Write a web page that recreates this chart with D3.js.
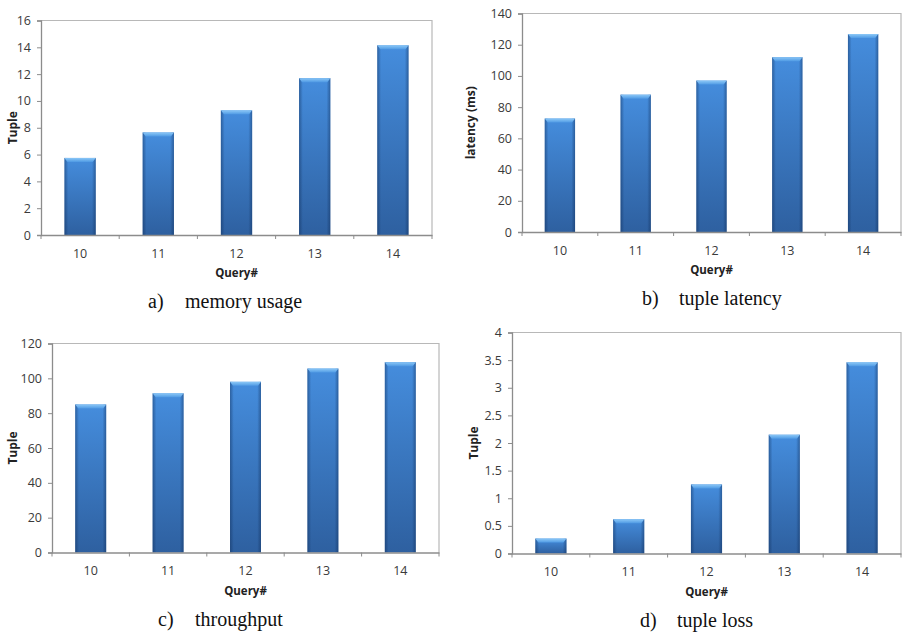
<!DOCTYPE html>
<html>
<head>
<meta charset="utf-8">
<script src="https://cdn.jsdelivr.net/npm/d3@7/dist/d3.min.js"></script>
<style>
  html, body { margin: 0; padding: 0; background: #fff; }
  svg { display: block; }
</style>
</head>
<body>
<svg id="chart" width="902" height="636"></svg>
<script>
// ---------- data ----------
const queries = ["10", "11", "12", "13", "14"];
const memoryUsage = [5.75, 7.65, 9.3, 11.7, 14.15];
const tupleLatency = [72.7, 88, 97, 112, 126.8];
const throughput = [85, 91.4, 98, 105.6, 109.3];
const tupleLoss = [0.27, 0.62, 1.25, 2.15, 3.46];
const memoryTicks = [0, 2, 4, 6, 8, 10, 12, 14, 16];
const latencyTicks = [0, 20, 40, 60, 80, 100, 120, 140];
const throughputTicks = [0, 20, 40, 60, 80, 100, 120];
const lossTicks = [0, 0.5, 1, 1.5, 2, 2.5, 3, 3.5, 4];
const xTitle = "Query#";

// ---------- layout ----------
const panels = [
  { values: memoryUsage, ticks: memoryTicks, yTitle: "Tuple", tag: "a)", caption: "memory usage",
    left: 41, top: 20.5, right: 432, bottom: 235, yTitleX: 13, capX: 148 },
  { values: tupleLatency, ticks: latencyTicks, yTitle: "latency (ms)", tag: "b)", caption: "tuple latency",
    left: 522, top: 13.5, right: 901, bottom: 232, yTitleX: 471, capX: 642 },
  { values: throughput, ticks: throughputTicks, yTitle: "Tuple", tag: "c)", caption: "throughput",
    left: 52, top: 343.5, right: 439, bottom: 552.5, yTitleX: 13, capX: 158 },
  { values: tupleLoss, ticks: lossTicks, yTitle: "Tuple", tag: "d)", caption: "tuple loss",
    left: 512, top: 332.5, right: 901, bottom: 553.5, yTitleX: 474, capX: 640 }
];

const svg = d3.select("#chart");
const defs = svg.append("defs");

// bar body gradient (vertical)
const gV = defs.append("linearGradient").attr("id", "barV").attr("x1", 0).attr("y1", 0).attr("x2", 0).attr("y2", 1);
gV.append("stop").attr("offset", "0%").attr("stop-color", "#458ddd");
gV.append("stop").attr("offset", "100%").attr("stop-color", "#2e60a0");
// edge shading (horizontal)
const gH = defs.append("linearGradient").attr("id", "barH").attr("x1", 0).attr("y1", 0).attr("x2", 1).attr("y2", 0);
gH.append("stop").attr("offset", "0%").attr("stop-color", "#0d2a55").attr("stop-opacity", 0.45);
gH.append("stop").attr("offset", "12%").attr("stop-color", "#0d2a55").attr("stop-opacity", 0.0);
gH.append("stop").attr("offset", "88%").attr("stop-color", "#0d2a55").attr("stop-opacity", 0.0);
gH.append("stop").attr("offset", "100%").attr("stop-color", "#0d2a55").attr("stop-opacity", 0.45);
// top cap
const gC = defs.append("linearGradient").attr("id", "barCap").attr("x1", 0).attr("y1", 0).attr("x2", 0).attr("y2", 1);
gC.append("stop").attr("offset", "0%").attr("stop-color", "#8cc8f7");
gC.append("stop").attr("offset", "100%").attr("stop-color", "#4f9ae4");

const tickFont = "'Open Sans', 'Liberation Sans', sans-serif";

panels.forEach(p => {
  const g = svg.append("g");
  const x = d3.scaleBand().domain(queries).range([p.left, p.right]).paddingInner(0.6).paddingOuter(0.3);
  const y = d3.scaleLinear().domain([0, d3.max(p.ticks)]).range([p.bottom, p.top]);

  // plot area border (top & right)
  g.append("path")
    .attr("d", `M${p.left},${y(d3.max(p.ticks))}H${p.right}V${p.bottom}`)
    .attr("fill", "none").attr("stroke", "#b8b8b8").attr("stroke-width", 1.2);

  // bars
  const bars = g.selectAll("g.bar").data(p.values).join("g").attr("class", "bar");
  bars.append("rect")
    .attr("x", (d, i) => x(queries[i])).attr("width", x.bandwidth())
    .attr("y", d => y(d)).attr("height", d => y(0) - y(d))
    .attr("fill", "url(#barV)");
  bars.append("rect")
    .attr("x", (d, i) => x(queries[i])).attr("width", x.bandwidth())
    .attr("y", d => y(d)).attr("height", d => y(0) - y(d))
    .attr("fill", "url(#barH)");
  bars.append("path")
    .attr("d", (d, i) => {
      const x0 = x(queries[i]), w = x.bandwidth(), t = y(d);
      return `M${x0},${t}H${x0 + w}L${x0 + w - 3},${t + 4}H${x0 + 3}Z`;
    })
    .attr("fill", "url(#barCap)");

  // y axis
  const yAxis = d3.axisLeft(y).tickValues(p.ticks).tickSize(4).tickPadding(6)
    .tickFormat(d => String(d));
  const ya = g.append("g").attr("transform", `translate(${p.left},0)`).call(yAxis);
  ya.select(".domain").attr("stroke", "#8c8c8c").attr("stroke-width", 1.3);
  ya.selectAll(".tick line").attr("stroke", "#8c8c8c");
  ya.selectAll(".tick text").attr("fill", "#3a3a3a").style("font-family", tickFont).style("font-size", "12.5px");

  // x axis (labels only, ticks at band boundaries)
  const xAxis = d3.axisBottom(x).tickSize(0).tickPadding(14);
  const xa = g.append("g").attr("transform", `translate(0,${p.bottom})`).call(xAxis);
  xa.select(".domain").attr("stroke", "#8c8c8c").attr("stroke-width", 1.3);
  xa.selectAll(".tick text").attr("fill", "#3a3a3a").style("font-family", tickFont).style("font-size", "12.5px");
  const bounds = d3.range(queries.length + 1).map(i => p.left + i * x.step());
  xa.selectAll("line.bound").data(bounds).join("line").attr("class", "bound")
    .attr("x1", d => d).attr("x2", d => d).attr("y1", 0).attr("y2", 4)
    .attr("stroke", "#8c8c8c");

  // axis titles
  g.append("text")
    .attr("x", (p.left + p.right) / 2).attr("y", p.bottom + 42)
    .attr("text-anchor", "middle").attr("fill", "#222")
    .style("font-family", tickFont).style("font-size", "11.5px").style("font-weight", "bold")
    .text(xTitle);
  g.append("text")
    .attr("transform", `translate(${p.yTitleX},${(p.top + p.bottom) / 2}) rotate(-90)`)
    .attr("text-anchor", "middle").attr("dy", "0.35em").attr("fill", "#222")
    .style("font-family", tickFont).style("font-size", "12px").style("font-weight", "bold")
    .text(p.yTitle);

  // caption
  const cap = g.append("text").attr("y", p.bottom + 73).attr("fill", "#111")
    .style("font-family", "'Liberation Serif', 'Times New Roman', serif").style("font-size", "20px");
  cap.append("tspan").attr("x", p.capX).text(p.tag);
  cap.append("tspan").attr("x", p.capX + 37).text(p.caption);
});
</script>
</body>
</html>
